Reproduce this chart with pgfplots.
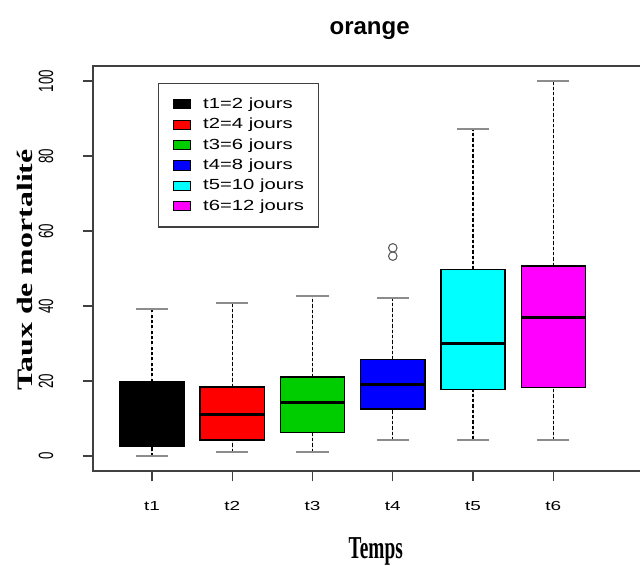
\documentclass[border=0pt]{standalone}
\usepackage{fontspec}
\setmainfont{Liberation Sans}
\usepackage{graphicx}
\usepackage{pgfplots}
\pgfplotsset{compat=1.18}
\usepgfplotslibrary{statistics}
\newfontfamily\xtickfont[FakeStretch=1.45]{Liberation Sans}
\newfontfamily\legfont[FakeStretch=1.38]{Liberation Sans}
\newfontfamily\ylabfont[FakeStretch=1.45]{Liberation Serif}
\newfontfamily\serifnorm{Liberation Serif}
\definecolor{rgreen}{RGB}{0,205,0}
\definecolor{rblue}{RGB}{0,0,255}
\definecolor{rred}{RGB}{255,0,0}
\definecolor{rcyan}{RGB}{0,255,255}
\definecolor{rmagenta}{RGB}{255,0,255}
\newcommand\sw[1]{\addlegendimage{legend image code/.code={\draw[fill=#1,draw=black,line width=0.7pt] (0pt,-3.4pt) rectangle (12.8pt,3.4pt);}}}
\newcommand\yl[1]{\rotatebox{90}{\scalebox{1}[1.55]{\fontsize{10}{11}\selectfont #1}}}
\begin{document}
\begin{tikzpicture}
\useasboundingbox (0,0) rectangle (480pt,423.75pt);
\begin{axis}[
  at={(69.75pt,70.5pt)}, anchor=south west,
  scale only axis, width=417.5pt, height=303.75pt,
  xmin=0.265, xmax=7.2, ymin=-4, ymax=104,
  axis line style={black!75, line width=0.9pt},
  tick style={black!75, line width=0.9pt},
  tick align=outside, major tick length=7.8pt,
  xtick pos=bottom, ytick pos=left,
  xtick={1,2,3,4,5,6}, xticklabels={t1,t2,t3,t4,t5,t6},
  ytick={0,20,40,60,80,100},
  yticklabels={{\yl{0}},{\yl{20}},{\yl{40}},{\yl{60}},{\yl{80}},{\yl{100}}},
  xticklabel style={font=\xtickfont\fontsize{9.8}{11}\selectfont, yshift=-11.5pt},
  yticklabel style={xshift=-18.5pt},
  title={orange},
  title style={at={(axis description cs:0.497,1.058)}, anchor=base, font=\bfseries\fontsize{18}{20}\selectfont},
  xlabel={\scalebox{1}[1.65]{\serifnorm\bfseries\fontsize{14.5}{16}\selectfont Temps}},
  xlabel style={at={(axis description cs:0.508,-0.217)}, anchor=base},
  ylabel={\ylabfont\bfseries\fontsize{16.5}{18}\selectfont Taux de mortalité},
  ylabel style={at={(axis description cs:-0.122,0.496)}, anchor=center, rotate=0},
  boxplot/draw direction=y,
  boxplot/box extend=0.8,
  boxplot/whisker extend=0.4,
  boxplot/every box/.style={draw=black, line width=1.1pt},
  boxplot/every median/.style={draw=black, line width=2.3pt},
  boxplot/draw/lower whisker/.code={%
    \draw[black, line width=1pt, dash pattern=on 2.4pt off 1.6pt]
      (boxplot box cs:\pgfplotsboxplotvalue{lower whisker},0.5) --
      (boxplot box cs:\pgfplotsboxplotvalue{lower quartile},0.5);
    \draw[black!45, line width=1.5pt]
      (boxplot whisker cs:\pgfplotsboxplotvalue{lower whisker},0) --
      (boxplot whisker cs:\pgfplotsboxplotvalue{lower whisker},1);
  },
  boxplot/draw/upper whisker/.code={%
    \draw[black, line width=1pt, dash pattern=on 2.4pt off 1.6pt]
      (boxplot box cs:\pgfplotsboxplotvalue{upper quartile},0.5) --
      (boxplot box cs:\pgfplotsboxplotvalue{upper whisker},0.5);
    \draw[black!45, line width=1.5pt]
      (boxplot whisker cs:\pgfplotsboxplotvalue{upper whisker},0) --
      (boxplot whisker cs:\pgfplotsboxplotvalue{upper whisker},1);
  },
  legend style={at={(0.1167,0.958)}, anchor=north west, draw=black!75, line width=0.9pt,
    inner xsep=11pt, inner ysep=9.5pt, row sep=3.3pt, column sep=9pt,
    font=\legfont\fontsize{11}{13}\selectfont,
    nodes={inner sep=0pt, text height=9pt, text depth=3pt}},
  legend cell align=left,
]
\addplot[forget plot, fill=black, draw=black, boxplot prepared={draw position=1,
  lower whisker=0, lower quartile=2.5, median=10, upper quartile=19.8, upper whisker=39.1}] coordinates {};
\addplot[forget plot, fill=rred, draw=black, boxplot prepared={draw position=2,
  lower whisker=1.1, lower quartile=4.3, median=11.1, upper quartile=18.4, upper whisker=40.7}] coordinates {};
\addplot[forget plot, fill=rgreen, draw=black, boxplot prepared={draw position=3,
  lower whisker=1.1, lower quartile=6.2, median=14.3, upper quartile=21.1, upper whisker=42.6}] coordinates {};
\addplot[forget plot, fill=rblue, draw=black, mark=o, mark size=3.2pt,
  mark options={draw=black!65, fill=none, line width=0.8pt, solid},
  boxplot prepared={draw position=4,
  lower whisker=4.2, lower quartile=12.5, median=19.1, upper quartile=25.7, upper whisker=42.2}]
  table[row sep=\\, y index=0] {55.5\\ 53.3\\};
\addplot[forget plot, fill=rcyan, draw=black, boxplot prepared={draw position=5,
  lower whisker=4.4, lower quartile=17.7, median=30.1, upper quartile=49.7, upper whisker=87.3}] coordinates {};
\addplot[forget plot, fill=rmagenta, draw=black, boxplot prepared={draw position=6,
  lower whisker=4.2, lower quartile=18.2, median=37.0, upper quartile=50.7, upper whisker=100}] coordinates {};
\sw{black}\addlegendentry{t1=2 jours}
\sw{rred}\addlegendentry{t2=4 jours}
\sw{rgreen}\addlegendentry{t3=6 jours}
\sw{rblue}\addlegendentry{t4=8 jours}
\sw{rcyan}\addlegendentry{t5=10 jours}
\sw{rmagenta}\addlegendentry{t6=12 jours}
\end{axis}
\end{tikzpicture}
\end{document}
